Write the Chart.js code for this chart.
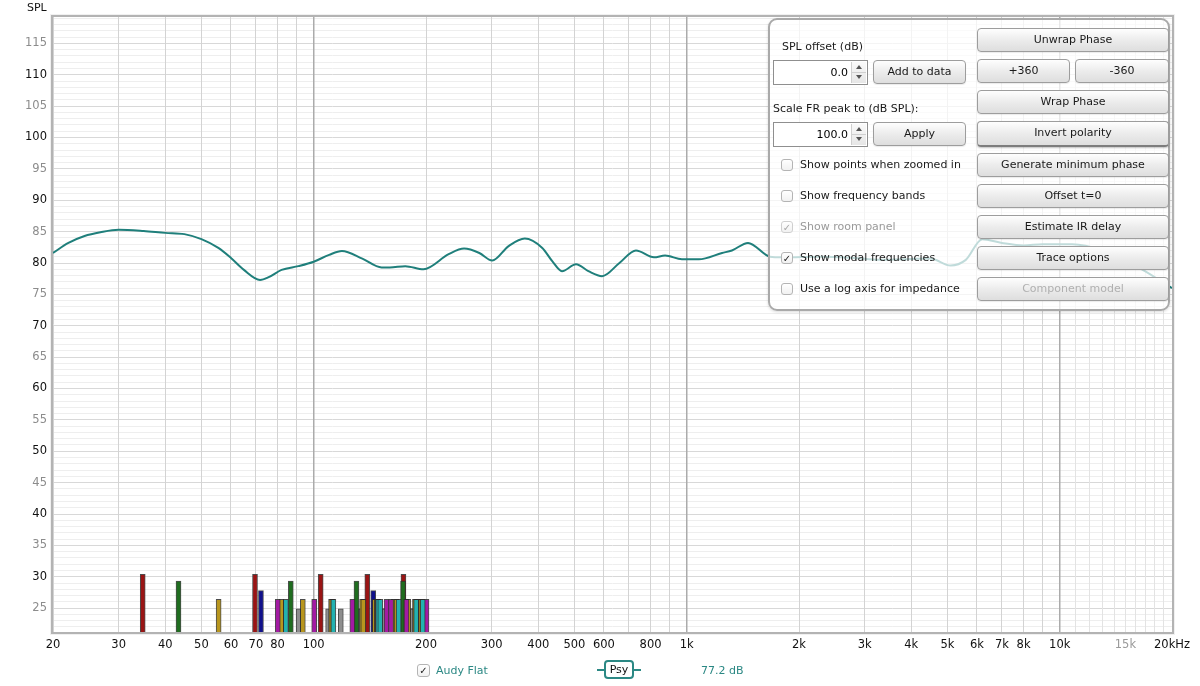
<!DOCTYPE html>
<html>
<head>
<meta charset="utf-8">
<title>SPL</title>
<script src="https://cdn.jsdelivr.net/npm/chart.js@4.4.0/dist/chart.umd.min.js"></script>
<style>
  body { margin: 0; background: #fff; font-family: 'DejaVu Sans', sans-serif; }
  #wrap { position: relative; width: 1200px; height: 686px; overflow: hidden; }
  #chart { position: absolute; left: 0; top: 0; }
  .abs { position: absolute; }
  .spl-title { left: 27px; top: 1px; font-size: 11px; color: #111; }
  #panel { left: 768px; top: 18px; width: 402px; height: 293px; box-sizing: border-box;
           border: 2px solid #a9a9a9; border-radius: 9px; background: rgba(255,255,255,0.72);
           box-shadow: 0 1px 3px rgba(0,0,0,0.15); }
  .btn { height: 24px; box-sizing: border-box; border: 1px solid #9d9d9d; border-radius: 4px;
         background: linear-gradient(#fefefe, #ececec 50%, #dedede); text-align: center;
         line-height: 22px; font-size: 11px; color: #1a1a1a; box-shadow: 0 1px 1px rgba(0,0,0,0.08); }
  .btn.wide { left: 977px; width: 192px; }
  .btn.dis { color: #b0b0b0; }
  .btn.def { border-bottom: 2px solid #7d7d7d; box-shadow: 0 1px 2px rgba(0,0,0,0.25); }
  .lbl { font-size: 11px; color: #1a1a1a; line-height: 14px; }
  .lbl.dis { color: #9a9a9a; }
  .cb { left: 781px; width: 12px; height: 12px; box-sizing: border-box; border: 1px solid #b4b4b4;
        border-radius: 3px; background: linear-gradient(#fff, #f1f1f1); font-size: 10px; line-height: 11px;
        text-align: center; color: #222; }
  .cb.dis { color: #a8a8a8; border-color: #cfcfcf; }
  .inp { left: 773px; width: 95px; height: 25px; box-sizing: border-box; border: 1px solid #8f8f8f;
         background: #fff; font-size: 11px; }
  .inp .v { position: absolute; right: 19px; top: 5px; }
  .inp .sp { position: absolute; right: 1px; top: 1px; width: 14px; height: 21px; border-left: 1px solid #cfcfcf;
             background: linear-gradient(#fafafa, #e6e6e6); }
  .sp .u, .sp .d { position: absolute; left: 4px; width: 0; height: 0; border-left: 3px solid transparent; border-right: 3px solid transparent; }
  .sp .u { top: 3px; border-bottom: 4px solid #555; }
  .sp .d { top: 13px; border-top: 4px solid #555; }
  .sp .mid { position: absolute; left: 0; top: 10px; width: 14px; border-top: 1px solid #d0d0d0; }
  .legend { font-size: 11px; color: #2b8884; }
</style>
</head>
<body>
<div id="wrap">
  <canvas id="chart" width="1200" height="686"></canvas>
  <div class="abs spl-title">SPL</div>

  <div id="panel" class="abs"></div>
  <div class="abs lbl" style="left:782px;top:40px">SPL offset (dB)</div>
  <div class="abs inp" style="top:60px"><span class="v">0.0</span><div class="sp"><div class="u"></div><div class="mid"></div><div class="d"></div></div></div>
  <div class="abs btn" style="left:873px;top:60px;width:93px">Add to data</div>
  <div class="abs lbl" style="left:773px;top:102px">Scale FR peak to (dB SPL):</div>
  <div class="abs inp" style="top:122px"><span class="v">100.0</span><div class="sp"><div class="u"></div><div class="mid"></div><div class="d"></div></div></div>
  <div class="abs btn" style="left:873px;top:122px;width:93px">Apply</div>

  <div class="abs btn wide" style="top:28px">Unwrap Phase</div>
  <div class="abs btn" style="left:977px;top:59px;width:93px">+360</div>
  <div class="abs btn" style="left:1075px;top:59px;width:94px">-360</div>
  <div class="abs btn wide" style="top:90px">Wrap Phase</div>
  <div class="abs btn wide def" style="top:121px;height:26px">Invert polarity</div>
  <div class="abs btn wide" style="top:153px">Generate minimum phase</div>
  <div class="abs btn wide" style="top:184px">Offset t=0</div>
  <div class="abs btn wide" style="top:215px">Estimate IR delay</div>
  <div class="abs btn wide" style="top:246px">Trace options</div>
  <div class="abs btn wide dis" style="top:277px">Component model</div>

  <div class="abs cb" style="top:159px"></div>
  <div class="abs lbl" style="left:800px;top:158px">Show points when zoomed in</div>
  <div class="abs cb" style="top:190px"></div>
  <div class="abs lbl" style="left:800px;top:189px">Show frequency bands</div>
  <div class="abs cb dis" style="top:221px">&#10003;</div>
  <div class="abs lbl dis" style="left:800px;top:220px">Show room panel</div>
  <div class="abs cb" style="top:252px">&#10003;</div>
  <div class="abs lbl" style="left:800px;top:251px">Show modal frequencies</div>
  <div class="abs cb" style="top:283px"></div>
  <div class="abs lbl" style="left:800px;top:282px">Use a log axis for impedance</div>

  <div class="abs cb" style="left:417px;top:664px;width:13px;height:13px">&#10003;</div>
  <div class="abs legend" style="left:436px;top:664px">Audy Flat</div>
  <div class="abs" style="left:597px;top:669px;width:44px;border-top:2px solid #2b8884"></div>
  <div class="abs" style="left:604px;top:660px;width:30px;height:19px;box-sizing:border-box;border:2px solid #2b8884;border-radius:4px;background:#fff;font-size:11px;text-align:center;line-height:15px;color:#111">Psy</div>
  <div class="abs legend" style="left:701px;top:664px">77.2 dB</div>
</div>

<script>
const FREQS = [20, 22, 24.3, 26.8, 30, 35, 40, 45, 50, 55.5, 60, 65, 71.8, 76, 82, 91, 100, 110, 119, 135, 152, 160, 176, 197,
               230, 253, 278, 301, 333, 368, 410, 436, 463, 505, 545, 593, 660, 731, 817, 875, 971, 1078, 1244, 1322, 1460, 1672,
               1800, 2300, 2800, 3300, 3800, 4500, 5100, 5600, 6200, 7000, 8000, 9000, 10800, 13000, 16600, 20000];
const SPL   = [81.6, 83.2, 84.3, 84.9, 85.3, 85.1, 84.8, 84.6, 83.8, 82.4, 80.8, 78.9, 77.3, 77.8, 78.9, 79.5, 80.2, 81.3, 81.9, 80.7, 79.3, 79.3, 79.5, 79.0,
               81.4, 82.3, 81.6, 80.4, 82.7, 83.9, 82.4, 80.3, 78.7, 79.8, 78.7, 77.9, 80.0, 82.0, 80.9, 81.2, 80.6, 80.6, 81.6, 82.0, 83.2, 81.0,
               80.9, 81.0, 80.8, 80.5, 80.6, 80.7, 79.6, 80.5, 83.8, 83.2, 82.8, 83.0, 83.0, 82.0, 79.0, 76.0];

// room modes (Hz) by type, and bar heights (dB)
const MODES_RED     = [34.8, 69.6, 104.4, 139.2, 174.0];
const MODES_GREEN   = [43.4, 86.8, 130.2, 173.6];
const MODES_BLUE    = [72.2, 144.4];
const MODES_GOLD    = [55.6, 81.9, 93.5, 111.3, 112.1, 134.8, 135.8, 145.8, 147.6, 164.0, 166.8, 177.1, 179.3, 186.8, 191.0, 194.1];
const MODES_MAGENTA = [80.1, 100.3, 126.9, 148.5, 156.8, 161.2, 177.3, 188.4, 200.6];
const MODES_CYAN    = [84.2, 112.9, 148.9, 150.8, 168.9, 188.2, 196.0];
const MODES_GRAY    = [91.1, 109.3, 118.2, 132.6, 134.1, 152.9, 153.8, 154.8, 162.7, 164.4, 166.1, 172.0, 179.2, 181.9, 182.2, 184.4, 191.2, 193.3, 197.5];
const H_RED = 30.4, H_GREEN = 29.3, H_BLUE = 27.8, H_TAN = 26.4, H_OBL = 24.9;

// axis
const Y_MIN = 21.2, Y_MAX = 119.2;
const X_LABEL_VALUES = [20, 30, 40, 50, 60, 70, 80, 100, 200, 300, 400, 500, 600, 800, 1000, 2000, 3000, 4000, 5000, 6000, 7000, 8000, 10000, 15000, 20000];
const X_LABELS       = ['20', '30', '40', '50', '60', '70', '80', '100', '200', '300', '400', '500', '600', '800', '1k', '2k', '3k', '4k', '5k', '6k', '7k', '8k', '10k', '15k', '20kHz'];

const TEAL = '#1f7f7b';

function modeSet(freqs, h, color) {
  return {
    type: 'bar',
    data: freqs.map(function(f) { return { x: f, y: [Y_MIN, h] }; }),
    backgroundColor: color,
    borderColor: 'rgba(45,45,45,0.85)',
    borderWidth: 1,
    barThickness: 5,
    grouped: false
  };
}

// vertical grid: 20..90, 100..900, 1k..9k, 10k..20k
var xGrid = [];
[10, 100, 1000].forEach(function(d) {
  for (var m = (d === 10 ? 2 : 1); m <= 9; m++) xGrid.push(m * d);
});
for (var k = 10; k <= 20; k++) xGrid.push(k * 1000);

function isDecade(v) { return v === 100 || v === 1000 || v === 10000; }

const framePlugin = {
  id: 'frame',
  afterDatasetsDraw: function(chart) {
    var a = chart.chartArea, c = chart.ctx;
    c.save();
    c.strokeStyle = '#b3b3b3';
    c.lineWidth = 2;
    c.strokeRect(a.left - 1, a.top - 1, a.right - a.left + 2, a.bottom - a.top + 2);
    c.strokeStyle = 'rgba(0,0,0,0.06)';
    c.lineWidth = 1;
    c.strokeRect(a.left - 2.5, a.top - 2.5, a.right - a.left + 5, a.bottom - a.top + 5);
    c.restore();
  }
};

new Chart(document.getElementById('chart'), {
  type: 'line',
  data: {
    datasets: [
      {
        type: 'line',
        data: FREQS.map(function(f, i) { return { x: f, y: SPL[i] }; }),
        borderColor: TEAL,
        borderWidth: 2,
        pointRadius: 0,
        cubicInterpolationMode: 'monotone',
        fill: false
      },
      modeSet(MODES_CYAN, H_TAN, '#22b2b0'),
      modeSet(MODES_MAGENTA, H_TAN, '#a31ba3'),
      modeSet(MODES_GOLD, H_TAN, '#b8961e'),
      modeSet(MODES_GREEN, H_GREEN, '#1f6d1f'),
      modeSet(MODES_RED, H_RED, '#9a1414'),
      modeSet(MODES_BLUE, H_BLUE, '#11118c'),
      modeSet(MODES_GRAY, H_OBL, '#8e8e8e')
    ]
  },
  options: {
    responsive: false,
    animation: false,
    layout: { padding: { left: 2, top: 17, right: 28, bottom: 28 } },
    plugins: { legend: { display: false }, tooltip: { enabled: false } },
    scales: {
      x: {
        type: 'logarithmic',
        min: 20, max: 20000,
        offset: false,
        border: { display: false },
        afterBuildTicks: function(s) { s.ticks = xGrid.map(function(v) { return { value: v }; }); },
        afterFit: function(s) { s.height = 26; },
        grid: {
          z: -1,
          drawTicks: false,
          offset: false,
          color: function(ctx) {
            var v = ctx.tick && ctx.tick.value;
            if (isDecade(v)) return '#ababab';
            if (v > 10000) return '#e3e3e3';
            return '#d3d3d3';
          },
          lineWidth: function(ctx) { return ctx.tick && isDecade(ctx.tick.value) ? 1.5 : 1; }
        },
        ticks: {
          autoSkip: false, maxRotation: 0, padding: 6,
          font: { family: 'DejaVu Sans', size: 11.5 },
          color: function(ctx) { return ctx.tick && ctx.tick.value === 15000 ? '#9a9a9a' : '#111'; },
          callback: function(v) {
            var i = X_LABEL_VALUES.indexOf(v);
            return i >= 0 ? X_LABELS[i] : '';
          }
        }
      },
      y: {
        min: Y_MIN, max: Y_MAX,
        border: { display: false },
        afterBuildTicks: function(s) {
          var t = [];
          for (var v = 22; v <= 119; v++) t.push({ value: v });
          s.ticks = t;
        },
        afterFit: function(s) { s.width = 51; },
        grid: {
          z: -2,
          drawTicks: false,
          color: function(ctx) { return ctx.tick && ctx.tick.value % 5 === 0 ? '#d8d8d8' : '#eeeeee'; }
        },
        ticks: {
          autoSkip: false, padding: 6,
          font: { family: 'DejaVu Sans', size: 11.5 },
          color: function(ctx) { return ctx.tick && ctx.tick.value % 10 === 0 ? '#111' : '#8c8c8c'; },
          callback: function(v) { return v % 5 === 0 ? String(v) : ''; }
        }
      }
    }
  },
  plugins: [framePlugin]
});
</script>
</body>
</html>
